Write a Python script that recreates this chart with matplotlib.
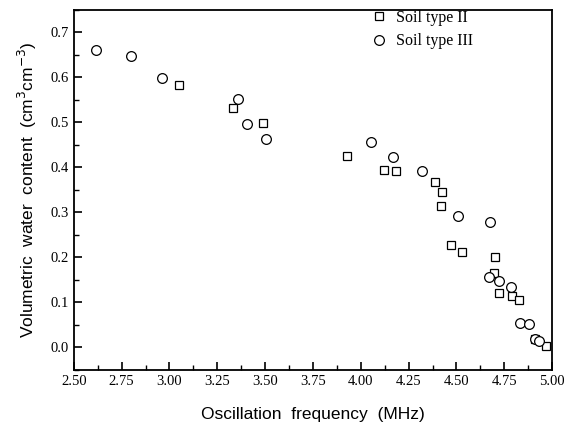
import matplotlib
matplotlib.use("Agg")
import matplotlib.pyplot as plt
from matplotlib.ticker import MultipleLocator

# Soil type II (squares)
freq_ii = [3.05, 3.33, 3.49, 3.93, 4.12, 4.185, 4.39, 4.425, 4.417, 4.473, 4.527,
           4.70, 4.695, 4.72, 4.788, 4.825, 4.91, 4.97]
wc_ii = [0.584, 0.531, 0.498, 0.425, 0.395, 0.392, 0.367, 0.346, 0.315, 0.227, 0.211,
         0.200, 0.165, 0.120, 0.115, 0.106, 0.018, 0.004]

# Soil type III (circles)
freq_iii = [2.615, 2.80, 2.96, 3.36, 3.407, 3.505, 4.055, 4.168, 4.32, 4.507, 4.673,
            4.668, 4.72, 4.785, 4.83, 4.877, 4.91, 4.93]
wc_iii = [0.662, 0.648, 0.599, 0.551, 0.497, 0.464, 0.456, 0.422, 0.391, 0.293, 0.278,
          0.157, 0.147, 0.134, 0.055, 0.052, 0.019, 0.015]

fig = plt.figure(figsize=(5.68, 4.32), dpi=100)
ax = fig.add_axes([0.130, 0.144, 0.842, 0.833])

ax.plot(freq_ii, wc_ii, linestyle="none", marker="s", markersize=6.0,
        markerfacecolor="white", markeredgecolor="black", markeredgewidth=0.9,
        label="Soil type II")
ax.plot(freq_iii, wc_iii, linestyle="none", marker="o", markersize=7.0,
        markerfacecolor="white", markeredgecolor="black", markeredgewidth=0.9,
        label="Soil type III")

ax.set_xlim(2.5, 5.0)
ax.set_ylim(-0.05, 0.75)
ax.xaxis.set_major_locator(MultipleLocator(0.25))
ax.xaxis.set_minor_locator(MultipleLocator(0.125))
ax.yaxis.set_major_locator(MultipleLocator(0.1))
ax.yaxis.set_minor_locator(MultipleLocator(0.05))
ax.xaxis.set_major_formatter(plt.FuncFormatter(lambda v, p: f"{v:.2f}"))
ax.yaxis.set_major_formatter(plt.FuncFormatter(lambda v, p: f"{v:.1f}"))

ax.tick_params(which="major", direction="in", length=6, width=1.2)
ax.tick_params(which="minor", direction="in", length=3.5, width=1.0)
for lab in ax.get_xticklabels() + ax.get_yticklabels():
    lab.set_family("Liberation Serif")
    lab.set_fontsize(10.5)
for sp in ax.spines.values():
    sp.set_linewidth(1.3)

ax.set_xlabel("Oscillation  frequency  (MHz)", family="Liberation Sans",
              fontsize=12.5, labelpad=14)
ax.set_ylabel("Volumetric  water  content  (cm$^3$cm$^{-3}$)", family="Liberation Sans",
              fontsize=12.5, labelpad=8)

ax.legend(loc="upper right", bbox_to_anchor=(0.835, 1.0), frameon=False,
          prop={"family": "Liberation Serif", "size": 11.5},
          handlelength=1.0, handletextpad=0.6, borderaxespad=0.0, borderpad=0.0,
          labelspacing=0.45)

fig.savefig("out.png", dpi=100)
